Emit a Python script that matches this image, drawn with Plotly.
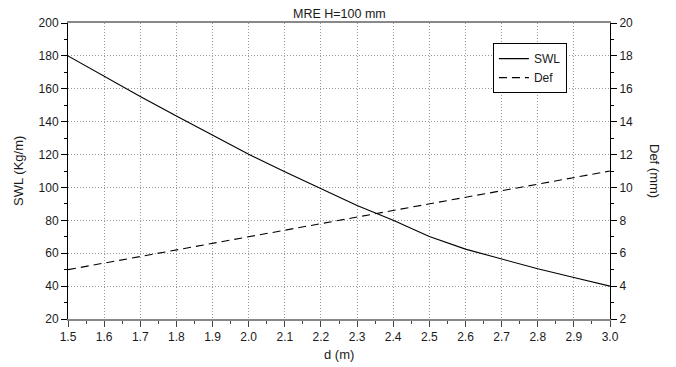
import plotly.graph_objects as go

d_m = [1.5, 1.6, 1.7, 1.8, 1.9, 2.0, 2.1, 2.2, 2.3, 2.4, 2.5, 2.6, 2.7, 2.8, 2.9, 3.0]
swl = [180, 167.5, 155.3, 143.5, 131.8, 120.2, 109.6, 99.2, 89.0, 80.0, 70.2, 62.5, 56.4, 50.5, 45.2, 40.0]
def_mm = [5.0, 5.4, 5.8, 6.2, 6.6, 7.0, 7.4, 7.8, 8.2, 8.6, 9.0, 9.4, 9.8, 10.2, 10.6, 11.0]

FONT = "Liberation Sans, Arial, sans-serif"

fig = go.Figure()
fig.add_trace(go.Scatter(x=d_m, y=swl, mode="lines", name="SWL",
                         line=dict(color="black", width=1.1)))
fig.add_trace(go.Scatter(x=d_m, y=def_mm, mode="lines", name="Def", yaxis="y2",
                         line=dict(color="black", width=1.1, dash="8px,5px")))

L, R, T, B = 68, 66, 23, 48
fig.update_layout(
    width=676, height=367,
    margin=dict(l=L, r=R, t=T, b=B),
    paper_bgcolor="white", plot_bgcolor="white",
    font=dict(family=FONT, size=12, color="#1a1a1a"),
    showlegend=True,
    legend=dict(x=0.784, y=0.932, xanchor="left", yanchor="top",
                bordercolor="black", borderwidth=1, bgcolor="white",
                font=dict(size=12), tracegroupgap=0, itemwidth=30),
    xaxis=dict(range=[1.5, 3.0], dtick=0.1, tick0=1.5, tickformat=".1f",
               showline=True, linecolor="#888", linewidth=2, mirror=True,
               ticks="outside", ticklen=6, tickcolor="#444", tickwidth=1,
               showgrid=True, gridcolor="#999", griddash="1px,2px", gridwidth=1,
               zeroline=False,
               minor=dict(dtick=0.05, ticks="outside", ticklen=3, tickcolor="#444", showgrid=False)),
    yaxis=dict(range=[20, 200], dtick=20,
               showline=True, linecolor="black", linewidth=1,
               ticks="outside", ticklen=6, tickcolor="black",
               showgrid=True, gridcolor="#999", griddash="1px,2px", gridwidth=1,
               zeroline=False,
               minor=dict(dtick=10, ticks="outside", ticklen=3, tickcolor="black", showgrid=False)),
    yaxis2=dict(range=[2, 20], dtick=2, overlaying="y", side="right",
                showline=True, linecolor="black", linewidth=1,
                ticks="outside", ticklen=6, tickcolor="black",
                showgrid=False, zeroline=False,
                minor=dict(dtick=1, ticks="outside", ticklen=3, tickcolor="black", showgrid=False)),
    annotations=[
        dict(text="MRE H=100 mm", xref="paper", yref="paper", x=0.5, y=1, yshift=9,
             xanchor="center", yanchor="middle", showarrow=False, font=dict(size=12.5)),
        dict(text="SWL (Kg/m)", xref="paper", yref="paper", x=0, y=0.5, xshift=-50,
             xanchor="center", yanchor="middle", textangle=-90, showarrow=False, font=dict(size=13)),
        dict(text="Def (mm)", xref="paper", yref="paper", x=1, y=0.5, xshift=45,
             xanchor="center", yanchor="middle", textangle=90, showarrow=False, font=dict(size=13)),
        dict(text="d (m)", xref="paper", yref="paper", x=0.5, y=0, yshift=-35,
             xanchor="center", yanchor="middle", showarrow=False, font=dict(size=13)),
    ],
)

fig.write_html("out.html", config={"displayModeBar": False},
               post_script="document.body.style.margin='0';document.body.style.padding='0';")
